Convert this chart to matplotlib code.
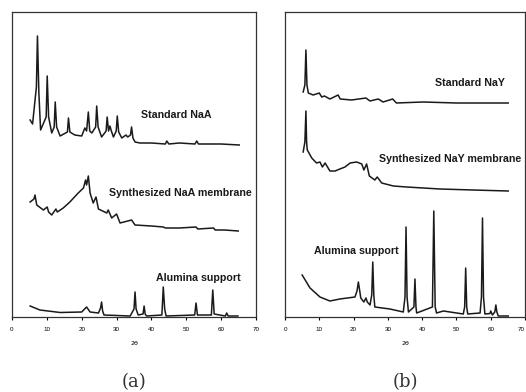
import matplotlib
matplotlib.use("Agg")
from matplotlib import pyplot as plt

# (a) NaA -- 2theta and intensity (arbitrary units, offset traces)
naa_std_x = [5.2, 5.9, 7.0, 7.3, 7.7, 8.2, 9.8, 10.1, 10.5, 11.4, 12.1, 12.4, 12.8, 13.8, 15.9, 16.2, 16.6,
             18.0, 20.0, 20.9, 21.4, 21.9, 22.3, 22.9, 24.0, 24.3, 24.7, 25.7, 27.0, 27.3, 27.7, 28.1,
             28.5, 29.1, 29.9, 30.2, 30.6, 31.5, 32.7, 33.2, 34.0, 34.3, 34.7, 35.3, 36.7, 40.0, 44.0,
             44.4, 45.0, 48.0, 52.5, 53.0, 53.5, 57.0, 60.0, 65.2]
naa_std_y = [197, 193, 230, 281, 225, 187, 200, 241, 200, 184, 190, 215, 190, 181, 185, 199, 185,
             182, 181, 189, 186, 205, 186, 184, 190, 211, 190, 180, 186, 200, 186, 191,
             186, 180, 186, 201, 185, 179, 182, 180, 182, 190, 179, 175, 174, 174, 173,
             176, 173, 174, 173, 176, 173, 173, 173, 172]

naa_mem_x = [5.2, 6.3, 6.6, 6.9, 7.1, 9.0, 10.1, 10.5, 11.4, 12.6, 13.0, 14.7, 16.6, 19.0, 20.5, 21.1,
             21.4, 21.9, 22.4, 23.3, 24.1, 24.8, 27.2, 27.6, 28.6, 30.0, 31.0, 34.3, 35.3, 40.0,
             43.4, 44.0, 48.0, 52.8, 53.3, 57.8, 58.3, 61.0, 64.9]
naa_mem_y = [115, 118, 122, 116, 112, 107, 110, 105, 102, 108, 105, 109, 115, 124, 129, 137,
             132, 141, 124, 114, 120, 108, 104, 107, 99, 103, 94, 97, 92, 91,
             90, 89, 89, 90, 88, 89, 87, 87, 86]

al_a_x = [5.2, 8.0, 13.8, 20.0, 21.4, 22.4, 24.8, 25.4, 25.7, 26.0, 26.4, 33.9, 35.0, 35.3, 35.6, 36.2,
          37.6, 37.9, 38.2, 38.6, 43.0, 43.4, 43.8, 44.2, 52.4, 52.8, 53.2, 57.2, 57.6, 58.0, 61.2,
          61.6, 62.0, 64.8]
al_a_y = [11, 7, 4.5, 5, 10, 5, 4, 9, 15, 6, 2, 1, 8, 25, 8, 2,
          3, 11, 3, 1, 2, 30, 8, 1, 2, 14, 2, 2, 27, 3, 1,
          4, 1, 1]

# (b) NaY
nay_std_x = [5.3, 5.8, 6.1, 6.4, 6.8, 8.2, 10.0, 10.7, 11.5, 13.1, 15.5, 16.1, 19.4, 23.6, 24.8,
             27.2, 28.6, 31.4, 32.5, 40.3, 50.0, 65.1]
nay_std_y = [225, 232, 267, 232, 224, 222, 224, 220, 221, 218, 222, 218, 217, 219, 216,
             218, 215, 218, 214, 215, 214, 214]

nay_mem_x = [5.3, 5.8, 6.1, 6.3, 6.5, 7.8, 9.2, 10.2, 10.9, 11.7, 13.1, 14.6, 16.0, 17.5, 19.0,
             20.9, 22.4, 23.0, 23.8, 24.6, 26.2, 26.9, 28.2, 31.6, 35.5, 45.2, 54.9, 65.1]
nay_mem_y = [165, 175, 206, 175, 167, 159, 154, 155, 150, 154, 146, 146, 148, 150, 154,
             155, 153, 147, 153, 141, 137, 140, 134, 131, 130, 128, 127, 126]

al_b_x = [5.0, 7.3, 10.2, 13.1, 16.0, 20.4, 21.0, 21.4, 21.8, 22.1, 23.0, 23.6, 24.0, 24.8, 25.3,
          25.6, 25.9, 26.2, 30.6, 34.5, 35.0, 35.3, 35.6, 36.0, 37.6, 37.9, 38.2, 38.4, 43.0,
          43.4, 43.8, 44.2, 46.2, 52.0, 52.4, 52.7, 53.0, 53.3, 56.9, 57.3, 57.6, 57.9, 58.3,
          59.8, 60.0, 60.5, 61.2, 61.5, 61.8, 62.2, 65.1]
al_b_y = [42, 29, 20, 16, 18, 20, 26, 35, 26, 19, 15, 19, 15, 12, 22,
          55, 22, 10, 8, 5, 20, 90, 20, 5, 10, 38, 10, 4, 10,
          106, 10, 4, 6, 3, 10, 49, 10, 3, 4, 20, 99, 20, 3,
          3.5, 6, 2, 5, 12, 5, 1, 1]

ticks = [0, 10, 20, 30, 40, 50, 60, 70]

panels = [
    ([(naa_std_x, naa_std_y), (naa_mem_x, naa_mem_y), (al_a_x, al_a_y)],
     [("Standard NaA", 47.0, 202), ("Synthesized NaA membrane", 48.2, 124), ("Alumina support", 53.4, 39)],
     "(a)", [12 / 526, 244 / 526]),
    ([(nay_std_x, nay_std_y), (nay_mem_x, nay_mem_y), (al_b_x, al_b_y)],
     [("Standard NaY", 53.9, 234), ("Synthesized NaY membrane", 48.1, 158), ("Alumina support", 20.7, 66)],
     "(b)", [285 / 526, 240 / 526]),
]

fig = plt.figure(figsize=(5.26, 3.92), dpi=100)
label_font = ["Liberation Sans Narrow", "Liberation Sans", "DejaVu Sans"]

for traces, labels, tag, (left, width) in panels:
    ax = fig.add_axes([left, 75 / 392, width, 305 / 392])
    for xs, ys in traces:
        ax.plot(xs, ys, color="#1a1a1a", lw=1.1)
    for txt, tx, ty in labels:
        ax.text(tx, ty, txt, ha="center", va="center", fontsize=7.7, family=label_font,
                fontweight="bold", color="#1a1a1a")
    ax.set_xlim(0, 70)
    ax.set_ylim(0, 305)
    ax.set_xticks(ticks)
    ax.set_xticklabels([str(t) for t in ticks], fontsize=4.5, family=label_font)
    ax.set_yticks([])
    ax.tick_params(axis="x", direction="out", length=2.5, width=0.8, pad=5)
    ax.set_xlabel("2θ", fontsize=4.5, labelpad=6)
    for s in ax.spines.values():
        s.set_linewidth(0.9)
        s.set_color("#333333")
    ax.text(0.5, -0.215, tag, transform=ax.transAxes, ha="center", va="center",
            fontsize=13, family="DejaVu Serif", color="#333333")

# last tick label of the right panel sits at the picture edge
ax.get_xticklabels()[-1].set_horizontalalignment("right")

fig.savefig("out.png", dpi=100)
